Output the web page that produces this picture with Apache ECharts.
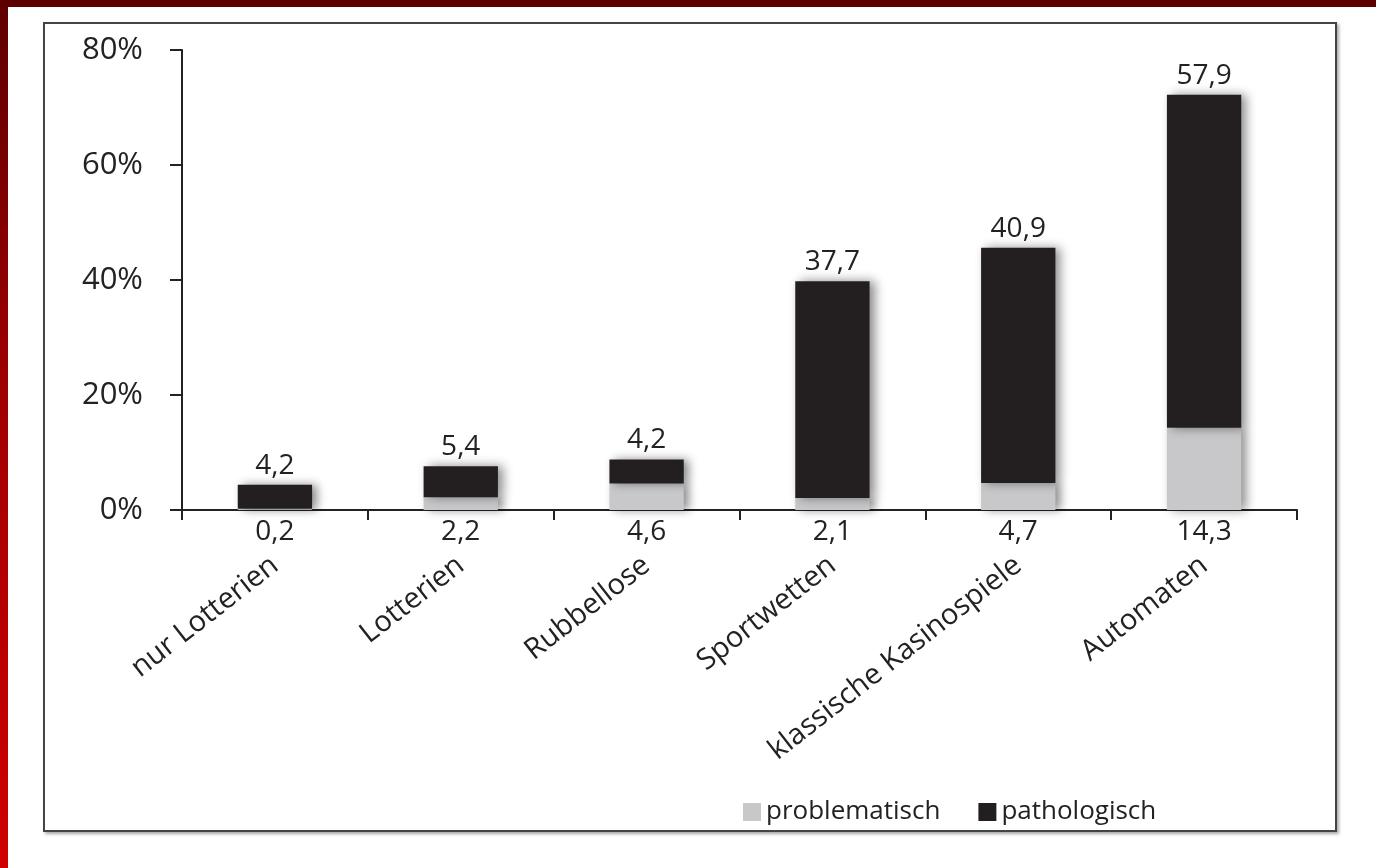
<!DOCTYPE html>
<html>
<head>
<meta charset="utf-8">
<script src="https://cdn.jsdelivr.net/npm/echarts@6/dist/echarts.min.js"></script>
<style>
  html, body { margin: 0; padding: 0; background: #fff; width: 1376px; height: 868px; overflow: hidden; }
  #topbar { position: absolute; left: 0; top: 0; width: 1376px; height: 7px; background: #5e0000; }
  #leftbar { position: absolute; left: 0; top: 0; width: 8px; height: 868px; background: linear-gradient(to bottom, #5e0000, #a00000 45%, #d00000); }
  #frame { position: absolute; left: 43px; top: 22px; width: 1290px; height: 806px; border: 2px solid #444; box-shadow: 2px 2px 3px rgba(0,0,0,0.35); }
  #chart { position: absolute; left: 0; top: 0; width: 1376px; height: 868px; }
</style>
</head>
<body>
<div id="topbar"></div>
<div id="leftbar"></div>
<div id="frame"></div>
<div id="chart"></div>
<script>
const categories = ['nur Lotterien', 'Lotterien', 'Rubbellose', 'Sportwetten', 'klassische Kasinospiele', 'Automaten'];
const problematisch = [0.2, 2.2, 4.6, 2.1, 4.7, 14.3];
const pathologisch = [4.2, 5.4, 4.2, 37.7, 40.9, 57.9];
const yTicks = { min: 0, max: 80, interval: 20 };

const FONT = '"Open Sans", sans-serif';
const TXT = '#222';
const fmt = p => String(p.value).replace('.', ',');
const shadow = { shadowColor: 'rgba(0,0,0,0.45)', shadowBlur: 10, shadowOffsetX: 5, shadowOffsetY: 0 };

const chart = echarts.init(document.getElementById('chart'));
chart.setOption({
  animation: false,
  textStyle: { fontFamily: FONT },
  grid: { left: 182, right: 79, top: 50, bottom: 358, containLabel: false },
  legend: {
    left: 738, top: 794,
    itemWidth: 18, itemHeight: 18, itemGap: 38,
    icon: 'rect',
    textStyle: { fontFamily: FONT, fontSize: 26, color: TXT },
    data: ['problematisch', 'pathologisch']
  },
  xAxis: {
    type: 'category',
    data: categories,
    axisLine: { lineStyle: { color: '#222', width: 2 } },
    axisTick: { show: true, interval: 0, length: 10, lineStyle: { color: '#222', width: 2 } },
    axisLabel: { interval: 0, rotate: 38, margin: 52, fontSize: 29, color: TXT, fontFamily: FONT }
  },
  yAxis: {
    type: 'value',
    min: yTicks.min, max: yTicks.max, interval: yTicks.interval,
    axisLine: { show: true, lineStyle: { color: '#222', width: 2 } },
    axisTick: { show: true, length: 12, lineStyle: { color: '#222', width: 2 } },
    splitLine: { show: false },
    axisLabel: { formatter: '{value}%', margin: 39, fontSize: 31, color: TXT, fontFamily: FONT }
  },
  series: [
    {
      name: 'problematisch', type: 'bar', stack: 'total', barWidth: '40%',
      data: problematisch,
      itemStyle: Object.assign({ color: '#c8c8ca' }, shadow),
      label: { show: true, position: 'bottom', distance: 8, formatter: fmt, fontSize: 28, color: TXT, fontFamily: FONT }
    },
    {
      name: 'pathologisch', type: 'bar', stack: 'total', barWidth: '40%',
      data: pathologisch,
      itemStyle: Object.assign({ color: '#231f20' }, shadow),
      label: { show: true, position: 'top', distance: 5, formatter: fmt, fontSize: 28, color: TXT, fontFamily: FONT }
    }
  ]
});
</script>
</body>
</html>
